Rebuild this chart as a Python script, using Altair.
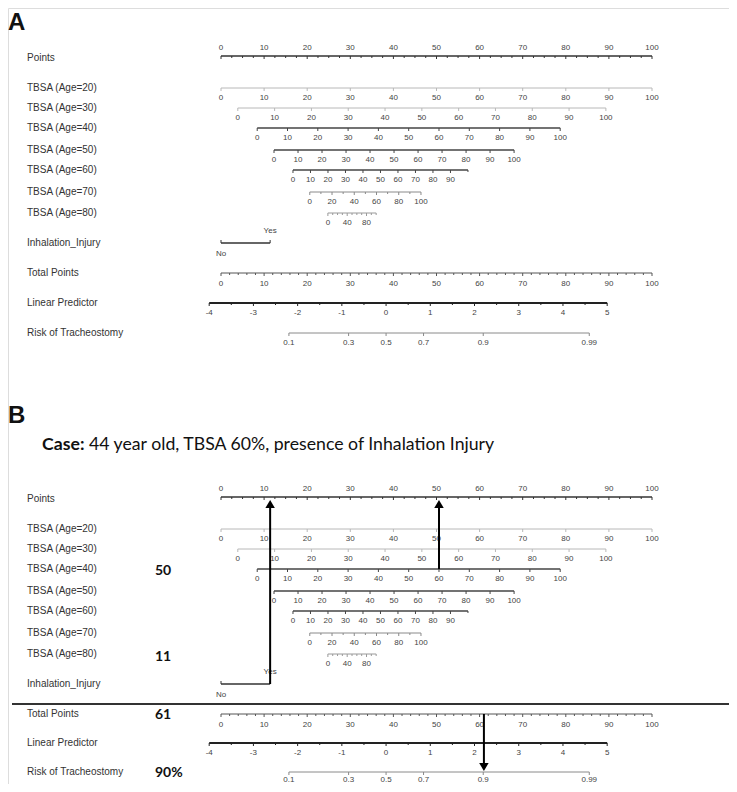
import math
import altair as alt
import pandas as pd

# ---------------- data ----------------
points_labels = [0, 10, 20, 30, 40, 50, 60, 70, 80, 90, 100]
points_minor_step = 2.5

tbsa_ages = [20, 30, 40, 50, 60, 70, 80]
tbsa_zero_points = [0.0, 3.9, 8.4, 12.3, 16.7, 20.6, 24.8]      # points at TBSA = 0
tbsa_hundred_points = [100.0, 89.3, 78.7, 68.0, 57.3, 46.4, 36.0]  # points at TBSA = 100
tbsa_label_values = {
    20: [0, 10, 20, 30, 40, 50, 60, 70, 80, 90, 100],
    30: [0, 10, 20, 30, 40, 50, 60, 70, 80, 90, 100],
    40: [0, 10, 20, 30, 40, 50, 60, 70, 80, 90, 100],
    50: [0, 10, 20, 30, 40, 50, 60, 70, 80, 90, 100],
    60: [0, 10, 20, 30, 40, 50, 60, 70, 80, 90],
    70: [0, 20, 40, 60, 80, 100],
    80: [0, 40, 80],
}
tbsa_tick_values = [0, 10, 20, 30, 40, 50, 60, 70, 80, 90, 100]

inhalation_levels = ["No", "Yes"]
inhalation_points = [0.0, 11.4]

total_points_labels = [0, 10, 20, 30, 40, 50, 60, 70, 80, 90, 100]
total_minor_step = 2

lp_labels = [-4, -3, -2, -1, 0, 1, 2, 3, 4, 5]
lp_zero_points = 38.3
lp_points_per_unit = 10.26

risk_labels = [0.1, 0.3, 0.5, 0.7, 0.9, 0.99]

case_age_row = 40
case_tbsa = 60
case_total = 61
case_score_text = {"tbsa": "50", "inh": "11", "total": "61", "risk": "90%"}
case_title_bold = "Case:"
case_title_rest = "44 year old, TBSA 60%, presence of Inhalation Injury"

row_names = {
    "points": "Points",
    20: "TBSA (Age=20)", 30: "TBSA (Age=30)", 40: "TBSA (Age=40)", 50: "TBSA (Age=50)",
    60: "TBSA (Age=60)", 70: "TBSA (Age=70)", 80: "TBSA (Age=80)",
    "inh": "Inhalation_Injury", "total": "Total Points",
    "lp": "Linear Predictor", "risk": "Risk of Tracheostomy",
}

# ---------------- layout ----------------
W, H = 721, 776
XS = alt.Scale(domain=[0, 100], range=[213, 644])
YS = alt.Scale(domain=[0, H], range=[0, H])

row_y = {"points": 48, 20: 80, 30: 100, 40: 120, 50: 142, 60: 162, 70: 184, 80: 205,
         "inh": 235, "total": 265, "lp": 295, "risk": 325}
B_OFF = 441
B_SHIFT = {"lp": -1, "risk": -2}

line_style = {"points": ("#333333", 1.3), 20: ("#b8b8b8", 1.0), 30: ("#b8b8b8", 1.0),
              40: ("#444444", 1.3), 50: ("#444444", 1.3), 60: ("#444444", 1.3),
              70: ("#8a8a8a", 1.0), 80: ("#9a9a9a", 1.0), "inh": ("#333333", 1.3),
              "total": ("#555555", 1.0), "lp": ("#222222", 1.8), "risk": ("#8a8a8a", 1.0)}


def tbsa_pts(age, t):
    i = tbsa_ages.index(age)
    return tbsa_zero_points[i] + (tbsa_hundred_points[i] - tbsa_zero_points[i]) * t / 100.0


def lp_pts(v):
    return lp_zero_points + lp_points_per_unit * v


def risk_pts(p):
    return lp_pts(math.log(p / (1 - p)))


def ry(key, off):
    return row_y[key] + off + (B_SHIFT.get(key, 0) if off else 0)


lines, ticks, tlabels, rlabels = [], [], [], []
for off in (0, B_OFF):
    def L(key, x0, x1):
        c, w = line_style[key]
        lines.append(dict(x=x0, x2=x1, y=ry(key, off), color=c, w=w))

    def T(key, x, ln, up=False):
        y = ry(key, off)
        ticks.append(dict(x=x, y=y, y2=(y - ln) if up else (y + ln), color=line_style[key][0]))

    def TL(key, x, text, dy):
        tlabels.append(dict(x=x, y=ry(key, off) + dy, text=text))

    # Points
    L("points", 0, 100)
    v = 0.0
    while v <= 100.001:
        T("points", v, 3 if abs(v % 10) < 1e-9 else 2)
        v += points_minor_step
    for v in points_labels:
        TL("points", v, str(v), -8)
    # TBSA rows
    for age in tbsa_ages:
        L(age, tbsa_pts(age, 0), tbsa_pts(age, 100))
        for t in tbsa_tick_values:
            T(age, tbsa_pts(age, t), 3 if t in tbsa_label_values[age] else 2)
        for t in tbsa_label_values[age]:
            TL(age, tbsa_pts(age, t), str(t), 10)
    # Inhalation
    L("inh", inhalation_points[0], inhalation_points[1])
    for p in inhalation_points:
        T("inh", p, 3, up=True)
    TL("inh", inhalation_points[0], inhalation_levels[0], 11)
    TL("inh", inhalation_points[1], inhalation_levels[1], -12)
    # Total points
    L("total", 0, 100)
    v = 0
    while v <= 100:
        T("total", v, 3 if v % 10 == 0 else 2)
        v += total_minor_step
    for v in total_points_labels:
        TL("total", v, str(v), 11)
    # Linear predictor
    L("lp", lp_pts(lp_labels[0]), lp_pts(lp_labels[-1]))
    v = lp_labels[0]
    while v <= lp_labels[-1] + 1e-9:
        T("lp", lp_pts(v), 3 if abs(v - round(v)) < 1e-9 else 2)
        v += 0.5
    for v in lp_labels:
        TL("lp", lp_pts(v), str(v), 10)
    # Risk
    L("risk", risk_pts(risk_labels[0]), risk_pts(risk_labels[-1]))
    for p in risk_labels:
        T("risk", risk_pts(p), 3)
        TL("risk", risk_pts(p), str(p), 10 if off == 0 else 8)
    # row names
    for key, name in row_names.items():
        rlabels.append(dict(y=ry(key, off) + (2 if key == "points" else 0), text=name))

lines_df = pd.DataFrame(lines)
ticks_df = pd.DataFrame(ticks)
tl_df = pd.DataFrame(tlabels)
rl_df = pd.DataFrame(rlabels)

X = lambda f: alt.X(f, scale=XS, axis=None)
Y = lambda f: alt.Y(f, scale=YS, axis=None)

line_layer = alt.Chart(lines_df).mark_rule().encode(
    x=X("x:Q"), x2="x2:Q", y=Y("y:Q"),
    color=alt.Color("color:N", scale=None),
    strokeWidth=alt.StrokeWidth("w:Q", scale=None))
tick_layer = alt.Chart(ticks_df).mark_rule(strokeWidth=1).encode(
    x=X("x:Q"), y=Y("y:Q"), y2="y2:Q", color=alt.Color("color:N", scale=None))
tl_layer = alt.Chart(tl_df).mark_text(
    font="Liberation Sans", fontSize=8, color="#444444", align="center", baseline="middle"
).encode(x=X("x:Q"), y=Y("y:Q"), text="text:N")
rl_layer = alt.Chart(rl_df).mark_text(
    font="Liberation Sans", fontSize=10, color="#333333", align="left", baseline="middle"
).encode(x=alt.value(19), y=Y("y:Q"), text="text:N")

# ---- panel letters, title, separator ----
letters_df = pd.DataFrame([dict(y=22, text="A"), dict(y=415, text="B")])
letters = alt.Chart(letters_df).mark_text(
    font="Liberation Sans", fontSize=24, fontWeight="bold", color="#111111",
    align="left", baseline="alphabetic").encode(x=alt.value(0), y=Y("y:Q"), text="text:N")

title_bold = alt.Chart(pd.DataFrame([dict(y=437, text=case_title_bold)])).mark_text(
    font="Lato", fontSize=17.7, fontWeight="bold", color="#111111", align="left", baseline="middle"
).encode(x=alt.value(34), y=Y("y:Q"), text="text:N")
title_rest = alt.Chart(pd.DataFrame([dict(y=437, text=case_title_rest)])).mark_text(
    font="Lato", fontSize=17.7, color="#111111", align="left", baseline="middle"
).encode(x=alt.value(81), y=Y("y:Q"), text="text:N")

sep = alt.Chart(pd.DataFrame([dict(y=row_y["inh"] + B_OFF + 20)])).mark_rule(
    color="#333333", strokeWidth=2).encode(x=alt.value(4), x2=alt.value(W), y=Y("y:Q"))

scores_df = pd.DataFrame([
    dict(y=ry(case_age_row, B_OFF) + 2, text=case_score_text["tbsa"]),
    dict(y=ry(80, B_OFF) + 3, text=case_score_text["inh"]),
    dict(y=ry("total", B_OFF) + 1, text=case_score_text["total"]),
    dict(y=ry("risk", B_OFF) + 1, text=case_score_text["risk"]),
])
scores = alt.Chart(scores_df).mark_text(
    font="Lato", fontSize=14, fontWeight="bold", color="#111111", align="left", baseline="middle"
).encode(x=alt.value(147), y=Y("y:Q"), text="text:N")

# ---- arrows ----
pts_y = ry("points", B_OFF)
arrow_lines = pd.DataFrame([
    dict(x=inhalation_points[1], y=ry("inh", B_OFF), y2=pts_y + 7),
    dict(x=tbsa_pts(case_age_row, case_tbsa), y=ry(case_age_row, B_OFF), y2=pts_y + 7),
    dict(x=case_total, y=ry("total", B_OFF), y2=ry("risk", B_OFF) - 5),
])
arrow_rule = alt.Chart(arrow_lines).mark_rule(color="#000000", strokeWidth=2).encode(
    x=X("x:Q"), y=Y("y:Q"), y2="y2:Q")
heads_up = pd.DataFrame([
    dict(x=inhalation_points[1], y=pts_y + 7),
    dict(x=tbsa_pts(case_age_row, case_tbsa), y=pts_y + 7),
])
heads_down = pd.DataFrame([dict(x=case_total, y=ry("risk", B_OFF) - 5)])
head_up_layer = alt.Chart(heads_up).mark_point(
    shape="triangle-up", filled=True, color="#000000", size=90, opacity=1).encode(x=X("x:Q"), y=Y("y:Q"))
head_down_layer = alt.Chart(heads_down).mark_point(
    shape="triangle-down", filled=True, color="#000000", size=90, opacity=1).encode(x=X("x:Q"), y=Y("y:Q"))

chart = alt.layer(
    line_layer, tick_layer, tl_layer, rl_layer, letters, title_bold, title_rest,
    sep, scores, arrow_rule, head_up_layer, head_down_layer
).properties(width=W, height=H, autosize=alt.AutoSizeParams(type="none"), padding=0
).configure_view(stroke=None).configure(background="white")

chart.save("out.html", embed_options={"renderer": "svg", "actions": False})
